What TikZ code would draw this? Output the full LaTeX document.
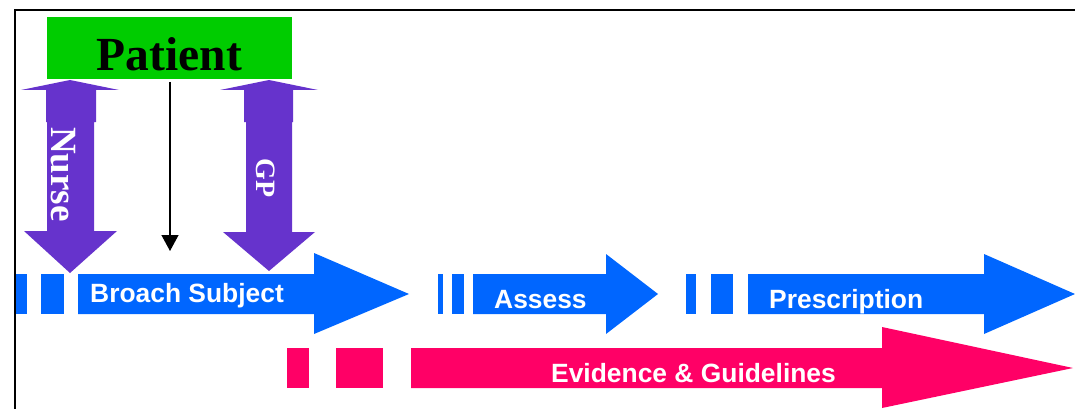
\documentclass[tikz,border=0pt]{standalone}
\usepackage{fontspec}
\setmainfont{Liberation Serif}
\newfontfamily\arialfont{Liberation Sans}
\usetikzlibrary{arrows.meta}
\definecolor{pgreen}{HTML}{00CC00}
\definecolor{pblue}{HTML}{0066FF}
\definecolor{ppink}{HTML}{FF0066}
\definecolor{ppurple}{HTML}{6633CC}
\tikzset{
  patientbox/.style={fill=pgreen, draw=none, minimum width=245pt, minimum height=62pt, inner sep=0pt},
  serifbig/.style={font=\fontsize{47.5}{50}\selectfont\bfseries, text=black, inner sep=0pt},
  vertlabel/.style={text=white, inner sep=0pt, rotate=-90},
  steplabel/.style={font=\arialfont\fontsize{26.4}{28}\selectfont\bfseries, text=white, inner sep=0pt, anchor=base west},
  bluefill/.style={fill=pblue, draw=none},
  pinkfill/.style={fill=ppink, draw=none},
  purplefill/.style={fill=ppurple, draw=none},
  frameline/.style={draw=black, line width=2pt},
  thinarrow/.style={draw=black, line width=1.3pt, -{Triangle[length=16pt,width=17pt]}}
}
\begin{document}
\begin{tikzpicture}[x=1pt,y=-1pt]
\useasboundingbox (0,0) rectangle (1075,409);
% frame
\draw[frameline] (15,409) -- (15,10) -- (1075,10);

% Patient box
\node[patientbox] (patient) at (169.5,48) {};
\node[serifbig, anchor=base] (patientlabel) at (169.5,71) {Patient};

% Nurse double arrow
\path[purplefill] (70,80) -- (119,90) -- (96,90) -- (96,122) -- (94,122) -- (94,231) -- (117,231) -- (70,273) -- (24,231) -- (47,231) -- (47,122) -- (46,122) -- (46,90) -- (21,90) -- cycle;
\node[vertlabel, font=\fontsize{37}{40}\selectfont\bfseries] (nurse) at (63,174.5) {Nurse};

% GP double arrow
\path[purplefill] (269,80) -- (318,90) -- (293,90) -- (293,122) -- (292,122) -- (292,232) -- (315,232) -- (269,271) -- (223,232) -- (246,232) -- (246,122) -- (244,122) -- (244,90) -- (220,90) -- cycle;
\node[vertlabel, font=\fontsize{28}{30}\selectfont\bfseries] (gp) at (266,178) {GP};

% black arrow from patient
\coordinate (pa) at (170,82);
\coordinate (pb) at (170,251);
\draw[thinarrow] (pa) -- (pb);

% Broach Subject
\fill[pblue] (16,274) rectangle (27,314);
\fill[pblue] (41,274) rectangle (64,314);
\path[bluefill] (78,274) -- (314,274) -- (314,253) -- (409,294) -- (314,334) -- (314,314) -- (78,314) -- cycle;
\node[steplabel] (broach) at (90,302) {Broach Subject};

% Assess
\fill[pblue] (438,274) rectangle (443,314);
\fill[pblue] (452,274) rectangle (464,314);
\path[bluefill] (473,274) -- (606,274) -- (606,254) -- (658,294) -- (606,334) -- (606,314) -- (473,314) -- cycle;
\node[steplabel] (assess) at (494,308) {Assess};

% Prescription
\fill[pblue] (686,274) rectangle (696,314);
\fill[pblue] (711,274) rectangle (733,314);
\path[bluefill] (748,274) -- (984,274) -- (984,254) -- (1075,294) -- (984,334) -- (984,314) -- (748,314) -- cycle;
\node[steplabel] (prescription) at (769,308) {Prescription};

% Evidence & Guidelines
\fill[ppink] (287,348) rectangle (309,388);
\fill[ppink] (336,348) rectangle (383,388);
\path[pinkfill] (411,348) -- (882,348) -- (882,327) -- (1073,368) -- (882,408) -- (882,388) -- (411,388) -- cycle;
\node[steplabel] (evidence) at (551,382) {Evidence \& Guidelines};
\end{tikzpicture}
\end{document}
